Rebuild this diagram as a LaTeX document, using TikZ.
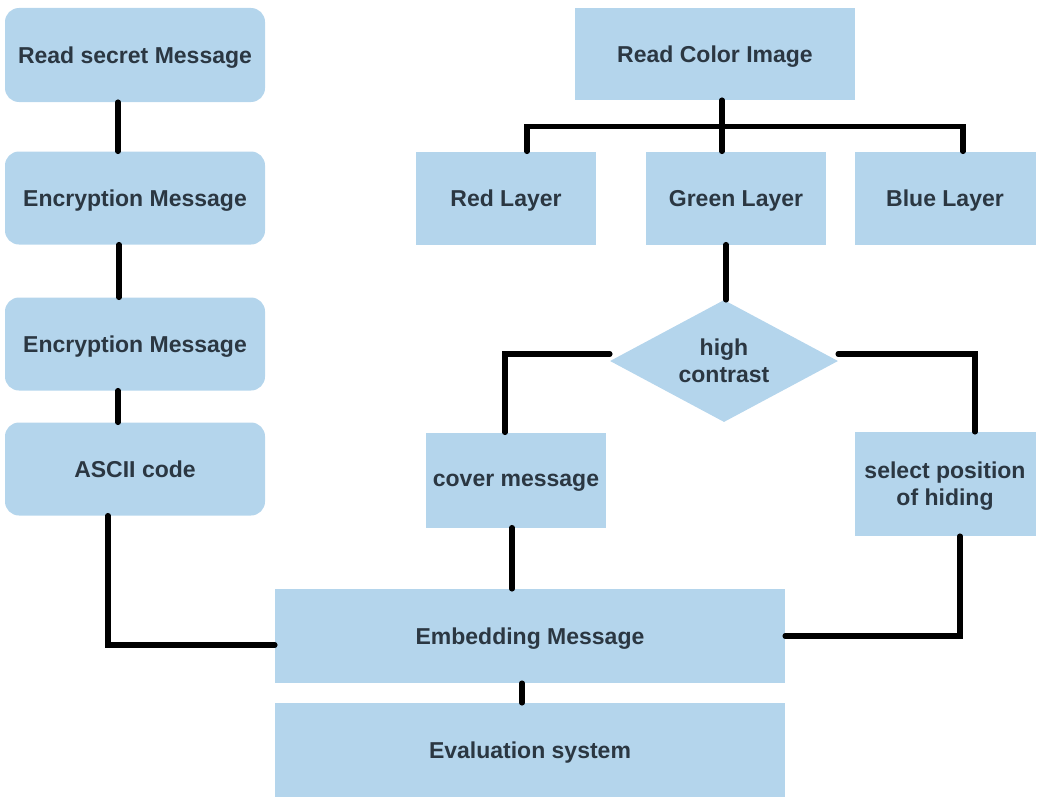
\documentclass[tikz,border=0pt]{standalone}
\usepackage{fontspec}
\setmainfont{Liberation Sans}
\usetikzlibrary{shapes.geometric}
\definecolor{boxblue}{RGB}{180,213,236}
\definecolor{boxtext}{RGB}{43,55,66}

\begin{document}
\begin{tikzpicture}[x=1pt,y=-1pt,
  box/.style={fill=boxblue, text=boxtext, font=\fontsize{23}{27}\selectfont\bfseries, align=center, inner sep=2pt, text depth=0pt},
  rbox/.style={box, rounded corners=14pt},
  link/.style={line width=5.5pt, line cap=round, black}]
\useasboundingbox (0,0) rectangle (1038,800);
\node[rbox, minimum width=260, minimum height=94] (msg) at (135,55) {Read secret Message};
\node[rbox, minimum width=260, minimum height=93] (enc1) at (135,198) {Encryption Message};
\node[rbox, minimum width=260, minimum height=93] (enc2) at (135,344) {Encryption Message};
\node[rbox, minimum width=260, minimum height=93] (ascii) at (135,469) {ASCII code};
\node[box, minimum width=280, minimum height=92] (img) at (715,54) {Read Color Image};
\node[box, minimum width=180, minimum height=93] (red) at (506,198) {Red Layer};
\node[box, minimum width=180, minimum height=93] (green) at (736,198) {Green Layer};
\node[box, minimum width=181, minimum height=93] (blue) at (945,198) {Blue Layer};
\node[box, diamond, aspect=1.87, inner sep=0pt, minimum width=228, minimum height=122] (hc) at (724,361) {high\\contrast};
\node[box, minimum width=180, minimum height=95] (cover) at (516,480) {cover message};
\node[box, minimum width=181, minimum height=104] (select) at (945,484) {select position\\of hiding};
\node[box, minimum width=510, minimum height=94] (embed) at (530,636) {Embedding Message};
\node[box, minimum width=510, minimum height=94] (eval) at (530,750) {Evaluation system};
% left column
\draw[link] ([xshift=-17]msg.south) -- ([xshift=-17]enc1.north);
\draw[link] ([xshift=-16]enc1.south) -- ([xshift=-16]enc2.north);
\draw[link] ([xshift=-17]enc2.south) -- ([xshift=-17]ascii.north);
\draw[link] ([xshift=-27]ascii.south) |- ([yshift=-9]embed.west);
% colour layers
\draw[link] ([xshift=7]img.south) -- ([xshift=7]img.south |- green.north);
\draw[link] ([xshift=21]red.north) -- ++(0,-25) -| ([xshift=18]blue.north);
\draw[link] ([xshift=-10]green.south) -- ([xshift=2]hc.north);
\draw[link] ([yshift=7]hc.west) -| ([xshift=-11]cover.north);
\draw[link] ([yshift=7]hc.east) -| ([xshift=30]select.north);
% to embedding
\draw[link] ([xshift=-4]cover.south) -- ([xshift=-18]embed.north);
\draw[link] ([xshift=15]select.south) |- (embed.east);
\draw[link] ([xshift=-8]embed.south) -- ([xshift=-8]eval.north);
\end{tikzpicture}
\end{document}
